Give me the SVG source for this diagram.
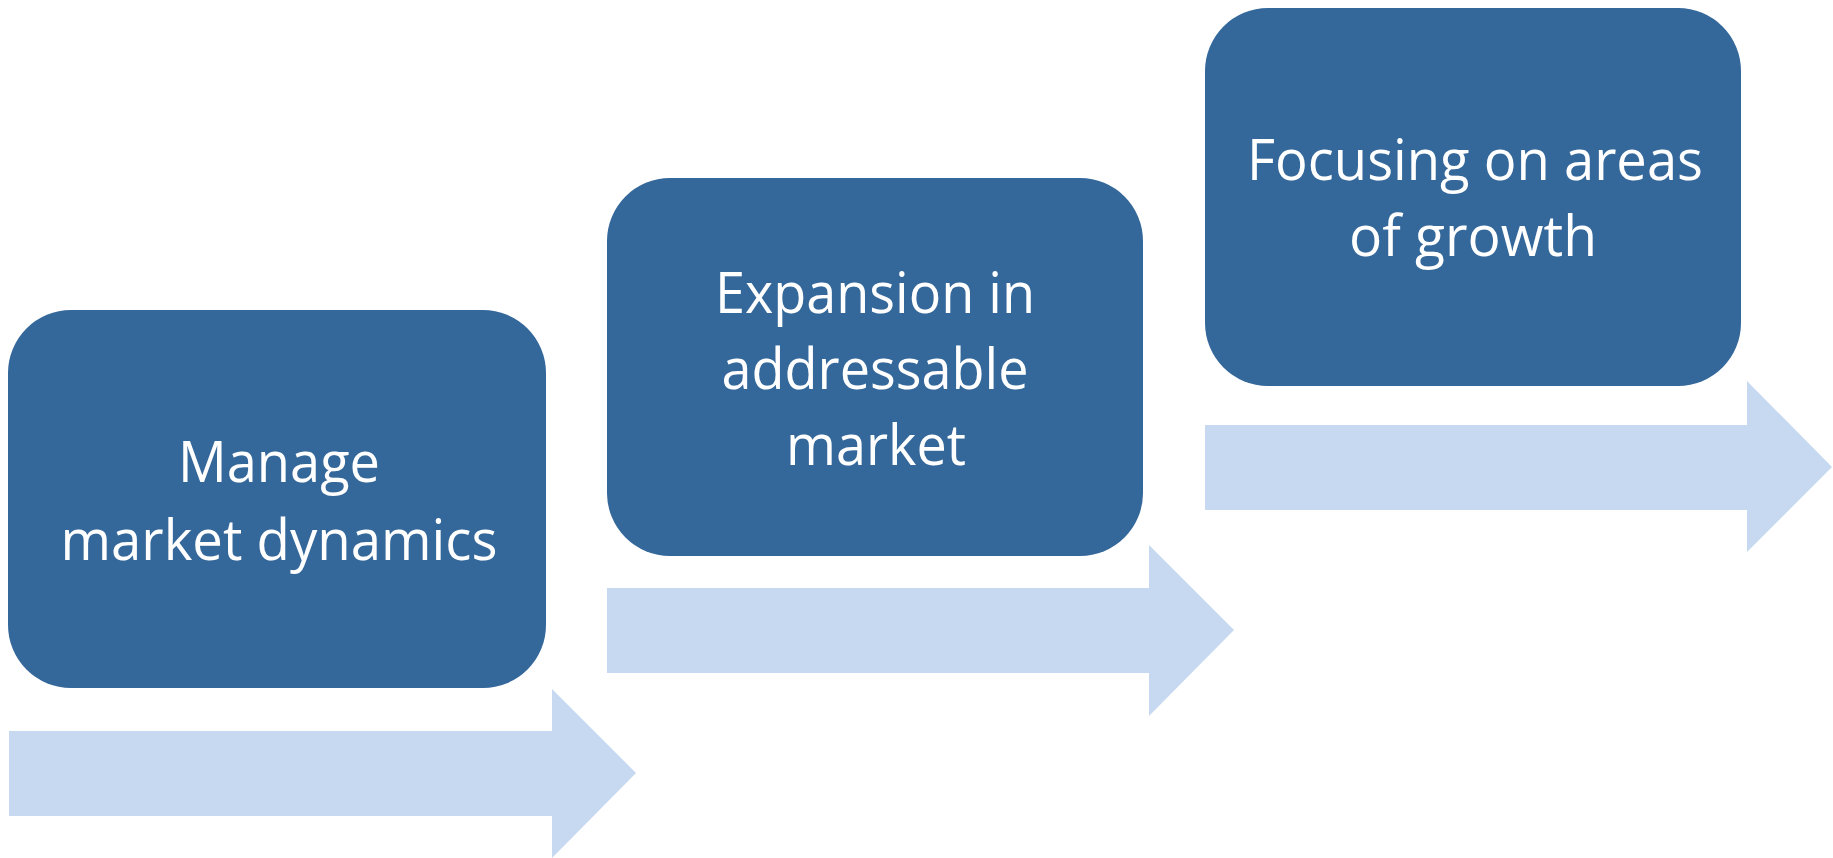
<svg xmlns="http://www.w3.org/2000/svg" width="1833" height="858" viewBox="0 0 1833 858">
<style>
.box{fill:#34679a}
.arr{fill:#c6d9f0}
.lbl{font-family:"Open Sans","Liberation Sans",sans-serif;font-size:56px;fill:#ffffff;text-anchor:middle}
</style>
<rect width="1833" height="858" fill="#ffffff"/>
<g id="connectors">
<polygon class="arr" points="9,731 552,731 552,689 636,773 552,858 552,816 9,816" />
<polygon class="arr" points="607,588 1149,588 1149,545 1234,630 1149,716 1149,673 607,673" />
<polygon class="arr" points="1205,425 1747,425 1747,381 1832,467 1747,552 1747,510 1205,510" />
</g>
<g id="node1">
<rect class="box" x="8" y="310" width="538" height="378" rx="63" ry="63"/>
<text class="lbl" x="279" y="482" textLength="202" lengthAdjust="spacingAndGlyphs">Manage</text>
<text class="lbl" x="279" y="560" textLength="437" lengthAdjust="spacingAndGlyphs">market dynamics</text>
</g>
<g id="node2">
<rect class="box" x="607" y="178" width="536" height="378" rx="63" ry="63"/>
<text class="lbl" x="875" y="313" textLength="320" lengthAdjust="spacingAndGlyphs">Expansion in</text>
<text class="lbl" x="875" y="389" textLength="307" lengthAdjust="spacingAndGlyphs">addressable</text>
<text class="lbl" x="876" y="465" textLength="180" lengthAdjust="spacingAndGlyphs">market</text>
</g>
<g id="node3">
<rect class="box" x="1205" y="8" width="536" height="378" rx="63" ry="63"/>
<text class="lbl" x="1475" y="180" textLength="456" lengthAdjust="spacingAndGlyphs">Focusing on areas</text>
<text class="lbl" x="1473" y="256" textLength="248" lengthAdjust="spacingAndGlyphs">of growth</text>
</g>
</svg>
